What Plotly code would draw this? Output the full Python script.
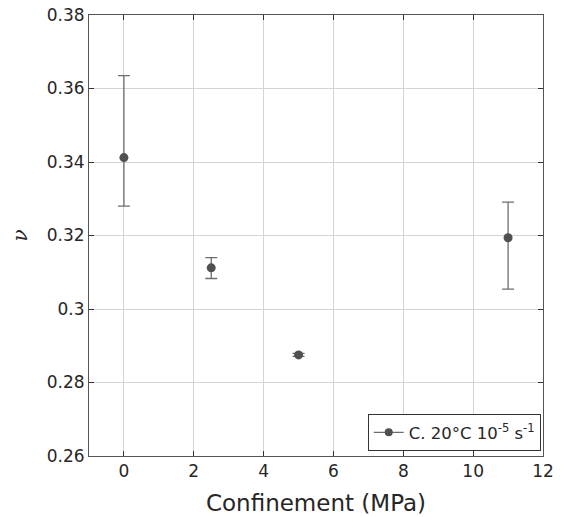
import plotly.graph_objects as go

confinement = [0, 2.5, 5, 11]
nu = [0.3412, 0.3112, 0.2875, 0.3194]
err_plus = [0.0223, 0.0028, 0.0004, 0.0097]
err_minus = [0.0132, 0.0029, 0.0004, 0.0140]
series_name = "C. 20°C 10<sup>-5</sup> s<sup>-1</sup>"
y_title = "<i>ν</i>"

x_ticks = [0, 2, 4, 6, 8, 10, 12]
y_ticks = [0.26, 0.28, 0.3, 0.32, 0.34, 0.36, 0.38]
y_ticklabels = ["0.26", "0.28", "0.3", "0.32", "0.34", "0.36", "0.38"]

fig = go.Figure()
fig.add_trace(go.Scatter(
    x=confinement, y=nu, mode="markers",
    marker=dict(color="#505050", size=9),
    error_y=dict(type="data", symmetric=False, array=err_plus, arrayminus=err_minus,
                 color="#6e6e6e", thickness=1.3, width=6),
    showlegend=False,
))
fig.add_trace(go.Scatter(
    x=[None], y=[None], mode="lines+markers", name=series_name,
    marker=dict(color="#505050", size=8),
    line=dict(color="#6e6e6e", width=1.3),
))

axis_common = dict(
    showgrid=True, gridcolor="#d4d4d4", gridwidth=1,
    showline=True, linecolor="#555555", linewidth=1, mirror="ticks",
    ticks="inside", ticklen=5, tickcolor="#333333",
    zeroline=False, automargin=False,
    tickfont=dict(family="DejaVu Sans", size=17, color="#262626"),
)

fig.update_xaxes(range=[-1, 12], tickvals=x_ticks,
                 title=dict(text="Confinement (MPa)", font=dict(family="DejaVu Sans", size=23, color="#262626"), standoff=14),
                 **axis_common)
fig.update_yaxes(range=[0.26, 0.38], tickvals=y_ticks, ticktext=y_ticklabels,
                 **axis_common)

fig.add_annotation(text=y_title, xref="paper", yref="paper", x=-0.152, y=0.5,
                   xanchor="center", yanchor="middle", textangle=-90, showarrow=False,
                   font=dict(family="DejaVu Serif", size=20, color="#262626"))

fig.update_layout(
    width=564, height=517,
    margin=dict(l=89, r=21, t=15, b=61),
    plot_bgcolor="white", paper_bgcolor="white",
    legend=dict(x=0.995, y=0.011, xanchor="right", yanchor="bottom",
                bordercolor="#333333", borderwidth=1, bgcolor="white",
                font=dict(family="DejaVu Sans", size=16.5, color="#262626"),
                itemwidth=30, tracegroupgap=0),
)

fig.write_html("out.html", config={"displayModeBar": False},
               post_script="document.body.style.margin='0';document.body.style.overflow='hidden';")
